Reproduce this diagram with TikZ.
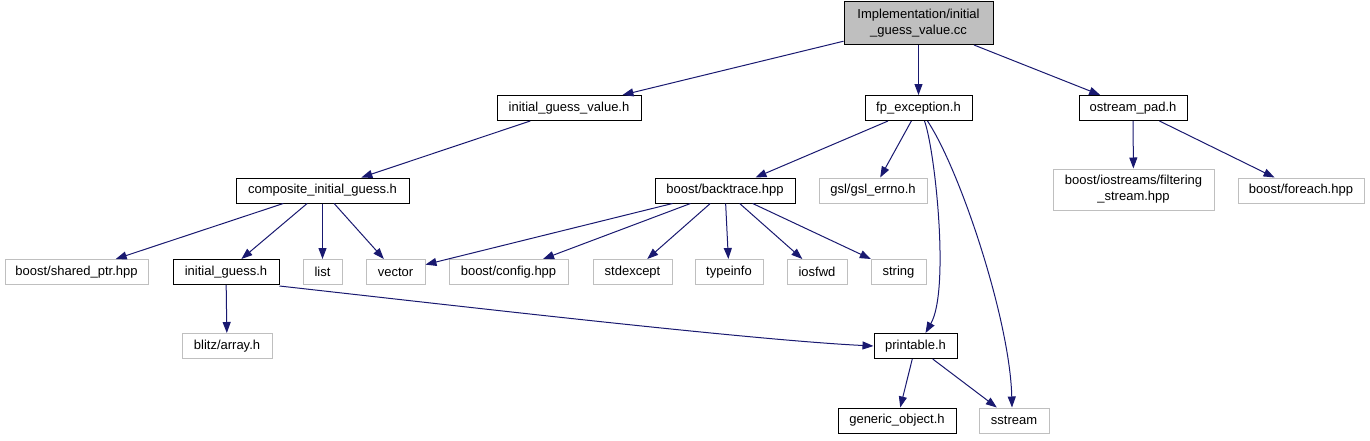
\documentclass[tikz,border=0pt]{standalone}
\usepackage{fontspec}
\setmainfont{Liberation Sans}
\usetikzlibrary{arrows.meta}
\definecolor{edgeblue}{HTML}{191970}
\definecolor{extgray}{HTML}{BFBFBF}

\begin{document}
\begin{tikzpicture}[
  x=1pt,y=-1pt,
  font=\fontsize{13}{16}\selectfont,
  hdr/.style={draw=black,line width=1pt,align=center,inner sep=0pt,
              minimum height=25pt},
  sys/.style={hdr,draw=extgray},
  dep/.style={edgeblue,line width=1pt,-{Triangle[length=11pt,width=8pt]}},
]
  \useasboundingbox (0,0) rectangle (1370,440);

  \node[hdr,fill=extgray,minimum width=149pt,minimum height=43pt] (root) at (918.5,23)
        {Implementation/initial\\\_guess\_value.cc};

  \node[hdr,minimum width=144pt] (igvh)   at (569,108)   {initial\_guess\_value.h};
  \node[hdr,minimum width=107pt] (fpexc)  at (918.5,108) {fp\_exception.h};
  \node[hdr,minimum width=108pt] (ostr)   at (1133,108)  {ostream\_pad.h};

  \node[hdr,minimum width=173pt] (comp)   at (322.5,190.5) {composite\_initial\_guess.h};
  \node[hdr,minimum width=140pt] (btrace) at (725,190.5)   {boost/backtrace.hpp};
  \node[sys,minimum width=108pt] (gslerr) at (873,190.5)   {gsl/gsl\_errno.h};
  \node[sys,minimum width=161pt,minimum height=41pt] (filt) at (1133.5,189.5)
        {boost/iostreams/filtering\\\_stream.hpp};
  \node[sys,minimum width=126pt] (fore)   at (1301,190.5)  {boost/foreach.hpp};

  \node[sys,minimum width=143pt] (shptr)  at (76.5,272)  {boost/shared\_ptr.hpp};
  \node[hdr,minimum width=106pt] (ig)     at (226,272)   {initial\_guess.h};
  \node[sys,minimum width=39pt]  (list)   at (322.5,272) {list};
  \node[sys,minimum width=59pt]  (vec)    at (395.5,272) {vector};
  \node[sys,minimum width=119pt] (conf)   at (508.5,272) {boost/config.hpp};
  \node[sys,minimum width=79pt]  (stdex)  at (632.5,272) {stdexcept};
  \node[sys,minimum width=68pt]  (tinfo)  at (729,272)   {typeinfo};
  \node[sys,minimum width=60pt]  (iosfwd) at (817,272)   {iosfwd};
  \node[sys,minimum width=55pt]  (str)    at (898.5,272) {string};

  \node[sys,minimum width=90pt]  (blitz)  at (227,346)   {blitz/array.h};
  \node[hdr,minimum width=83pt]  (prt)    at (915.5,346) {printable.h};
  \node[hdr,minimum width=118pt] (gen)    at (897,420.5) {generic\_object.h};
  \node[sys,minimum width=70pt]  (sst)    at (1014,420.5){sstream};

  % includes of the .cc file
  \draw[dep] (root) -- (igvh);
  \draw[dep] (root) -- (fpexc);
  \draw[dep] (root) -- (ostr);

  \draw[dep] (igvh) -- (comp);
  \draw[dep] (comp) -- (shptr);
  \draw[dep] (comp) -- (ig);
  \draw[dep] (comp) -- (list);
  \draw[dep] (comp) -- (vec);
  \draw[dep] (ig) -- (blitz);
  \draw[dep] ([yshift=-1pt]ig.south east) .. controls (450,305) and (750,340) .. (prt.west);

  \draw[dep] (fpexc) -- (btrace);
  \draw[dep] (fpexc) -- (gslerr);
  \draw[dep] ([xshift=6pt]fpexc.south) .. controls (935,150) and (950,290)
        .. ([xshift=10pt]prt.north);
  \draw[dep] ([xshift=9pt]fpexc.south) .. controls (960,170) and (1010,320)
        .. ([xshift=-2pt]sst.north);

  \foreach \t in {vec,conf,stdex,tinfo,iosfwd,str}
    \draw[dep] (btrace) -- (\t);

  \draw[dep] (ostr) -- (filt);
  \draw[dep] (ostr) -- (fore);

  \draw[dep] (prt) -- (gen);
  \draw[dep] (prt) -- (sst);
\end{tikzpicture}
\end{document}
